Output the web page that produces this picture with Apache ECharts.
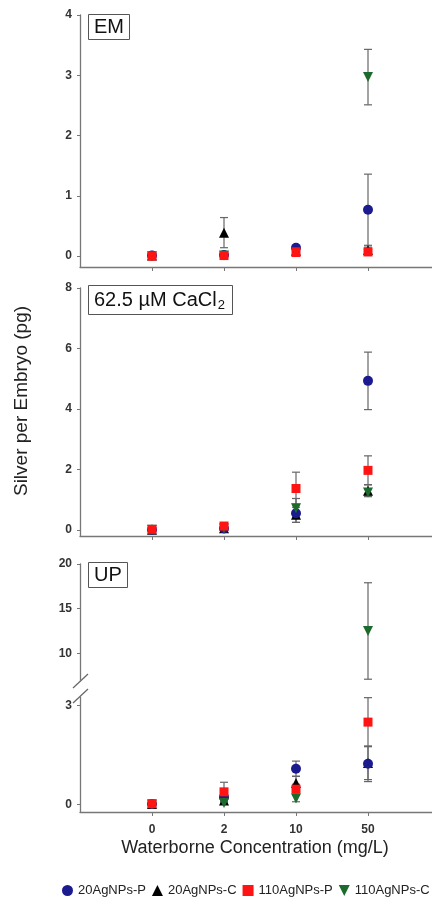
<!DOCTYPE html>
<html>
<head>
<meta charset="utf-8">
<script src="https://cdn.jsdelivr.net/npm/echarts@6/dist/echarts.min.js"></script>
<style>
html,body{margin:0;padding:0;background:#fff;}
#chart{width:432px;height:902px;}
</style>
</head>
<body>
<div id="chart"></div>
<script>
var concentrations = ['0', '2', '10', '50'];
var groupNames = ['20AgNPs-P', '20AgNPs-C', '110AgNPs-P', '110AgNPs-C'];

// EM
var em20P = [0.01, 0.02, 0.14, 0.77];
var em20PErr = [0.01, 0.02, 0.03, 0.59];
var em20C = [0.01, 0.39, 0.09, 0.10];
var em20CErr = [0.01, 0.25, 0.02, 0.05];
var em110P = [0.00, 0.01, 0.06, 0.07];
var em110PErr = [0.01, 0.01, 0.02, 0.04];
var em110C = [0.00, 0.01, 0.07, 2.97];
var em110CErr = [0.01, 0.01, 0.02, 0.46];

// 62.5 uM CaCl2
var ca20P = [0.01, 0.05, 0.55, 4.93];
var ca20PErr = [0.01, 0.02, 0.30, 0.95];
var ca20C = [0.01, 0.06, 0.50, 1.30];
var ca20CErr = [0.01, 0.02, 0.25, 0.20];
var ca110P = [0.02, 0.13, 1.37, 1.97];
var ca110PErr = [0.02, 0.03, 0.54, 0.48];
var ca110C = [0.01, 0.05, 0.72, 1.24];
var ca110CErr = [0.01, 0.02, 0.32, 0.12];

// UP
var up20P = [0.01, 0.22, 1.08, 1.23];
var up20PErr = [0.01, 0.05, 0.23, 0.54];
var up20C = [0.01, 0.12, 0.65, 1.25];
var up20CErr = [0.01, 0.04, 0.20, 0.50];
var up110P = [0.02, 0.38, 0.46, 2.49];
var up110PErr = [0.02, 0.29, 0.15, 0.74];
var up110C = [0.00, 0.04, 0.18, 12.5];
var up110CErr = [0.01, 0.03, 0.10, 5.4];

var emTicks = [0, 1, 2, 3, 4];
var caTicks = [0, 2, 4, 6, 8];
var upHighTicks = [10, 15, 20];
var upLowTicks = [0, 3];

var colors = ['#1b1b8f', '#000000', '#ff1414', '#1c6b2c'];
var symbols = ['circle', 'triangle', 'rect', 'triangle'];
var rotates = [0, 0, 0, 180];
var sizes = [10, 10, 9, 10];
var drawOrder = [1, 0, 3, 2];
var font = 'Liberation Sans, Arial, sans-serif';

// one entry per grid (the UP panel is split in two for the broken axis)
var grids = [
	{top: 15, height: 252, min: -0.18, max: 4, ticks: emTicks, xLine: true,
		means: [em20P, em20C, em110P, em110C], errs: [em20PErr, em20CErr, em110PErr, em110CErr]},
	{top: 288, height: 248, min: -0.2, max: 8, ticks: caTicks, xLine: true,
		means: [ca20P, ca20C, ca110P, ca110C], errs: [ca20PErr, ca20CErr, ca110PErr, ca110CErr]},
	{top: 564, height: 117, min: 6.9, max: 20, ticks: upHighTicks, xLine: false,
		means: [up20P, up20C, up110P, up110C], errs: [up20PErr, up20CErr, up110PErr, up110CErr]},
	{top: 697, height: 115, min: -0.23, max: 3.25, ticks: upLowTicks, xLine: true, xLabels: true,
		means: [up20P, up20C, up110P, up110C], errs: [up20PErr, up20CErr, up110PErr, up110CErr]}
];

function renderErr(params, api){
	var x = api.value(0);
	var lo = api.coord([x, api.value(1)]);
	var hi = api.coord([x, api.value(2)]);
	var w = 4;
	var st = {stroke: '#666', lineWidth: 1.2};
	var children = [{type: 'line', shape: {x1: lo[0], y1: lo[1], x2: hi[0], y2: hi[1]}, style: st}];
	if(api.value(3)){
		children.push({type: 'line', shape: {x1: lo[0]-w, y1: lo[1], x2: lo[0]+w, y2: lo[1]}, style: st});
	}
	if(api.value(4)){
		children.push({type: 'line', shape: {x1: hi[0]-w, y1: hi[1], x2: hi[0]+w, y2: hi[1]}, style: st});
	}
	return {type: 'group', children: children};
}

var gridOpt = [], xAxes = [], yAxes = [], series = [];
grids.forEach(function(g, gi){
	//x axis runs past the right edge, like the cropped original
	gridOpt.push({left: 80, width: 360, top: g.top, height: g.height, containLabel: false, outerBoundsMode: 'none'});
	xAxes.push({
		type: 'value', gridIndex: gi, min: -1, max: 4, show: g.xLine,
		axisLine: {onZero: false, lineStyle: {color: '#777', width: 1.3}},
		axisTick: {show: true, customValues: [0, 1, 2, 3], length: 4, lineStyle: {color: '#777'}},
		axisLabel: {show: !!g.xLabels, customValues: [0, 1, 2, 3], margin: 12,
			formatter: function(v){ return concentrations[v]; },
			fontFamily: font, fontSize: 12, fontWeight: 'bold', color: '#333'},
		splitLine: {show: false}
	});
	yAxes.push({
		type: 'value', gridIndex: gi, min: g.min, max: g.max,
		axisLine: {show: true, onZero: false, lineStyle: {color: '#777', width: 1.3}},
		axisTick: {show: true, customValues: g.ticks, length: 3, lineStyle: {color: '#777'}},
		axisLabel: {customValues: g.ticks, margin: 8, fontFamily: font, fontSize: 12, fontWeight: 'bold', color: '#333'},
		splitLine: {show: false}
	});
	var errData = [];
	drawOrder.forEach(function(k){
		g.means[k].forEach(function(m, i){
			var lo = m - g.errs[k][i], hi = m + g.errs[k][i];
			if(hi < g.min || lo > g.max) return;
			errData.push([i, Math.max(lo, g.min), Math.min(hi, g.max), lo >= g.min ? 1 : 0, hi <= g.max ? 1 : 0]);
		});
	});
	series.push({
		type: 'custom', xAxisIndex: gi, yAxisIndex: gi, renderItem: renderErr,
		data: errData, encode: {x: 0, y: [1, 2]}, z: 1, silent: true
	});
	drawOrder.forEach(function(k, n){
		var pts = [];
		g.means[k].forEach(function(m, i){
			if(m >= g.min && m <= g.max) pts.push([i, m]);
		});
		series.push({
			name: groupNames[k], type: 'scatter', xAxisIndex: gi, yAxisIndex: gi,
			data: pts, symbol: symbols[k], symbolRotate: rotates[k], symbolSize: sizes[k],
			itemStyle: {color: colors[k], opacity: 1}, z: 2 + n, clip: false
		});
	});
});

var chart = echarts.init(document.getElementById('chart'));
chart.setOption({
	animation: false,
	backgroundColor: '#fff',
	title: [
		{text: 'EM', left: 88, top: 14},
		{text: '{n|62.5 µM CaCl}{sub|2}', left: 88, top: 287},
		{text: 'UP', left: 88, top: 562}
	].map(function(t){
		t.borderColor = '#555';
		t.borderWidth = 1;
		t.padding = [3, 6];
		t.textStyle = {fontFamily: font, fontSize: 20, fontWeight: 'normal', color: '#111', lineHeight: 20,
			rich: {
				n: {fontFamily: font, fontSize: 20, color: '#111', lineHeight: 20},
				sub: {fontFamily: font, fontSize: 13, color: '#111', lineHeight: 13, padding: [11, 2, 0, 1]}
			}};
		return t;
	}),
	legend: {
		data: groupNames.map(function(name, k){
			return {name: name, icon: k === 3 ? 'path://M0,0 L10,0 L5,10 Z' : symbols[k]};
		}),
		left: 62, top: 884, padding: 0, itemWidth: 11, itemHeight: 11, itemGap: 6,
		textStyle: {fontFamily: font, fontSize: 13, color: '#222'}
	},
	grid: gridOpt,
	xAxis: xAxes,
	yAxis: yAxes,
	series: series,
	graphic: [
		{type: 'text', x: 22, y: 401, rotation: Math.PI / 2,
			style: {text: 'Silver per Embryo (pg)', font: '19px ' + font, fill: '#222', textAlign: 'center', textVerticalAlign: 'middle'}},
		{type: 'text', x: 255, y: 848,
			style: {text: 'Waterborne Concentration (mg/L)', font: '18px ' + font, fill: '#222', textAlign: 'center', textVerticalAlign: 'middle'}},
		{type: 'line', shape: {x1: 73, y1: 688, x2: 88, y2: 674}, style: {stroke: '#666', lineWidth: 1.2}},
		{type: 'line', shape: {x1: 73, y1: 703, x2: 88, y2: 689}, style: {stroke: '#666', lineWidth: 1.2}}
	]
});
</script>
</body>
</html>
